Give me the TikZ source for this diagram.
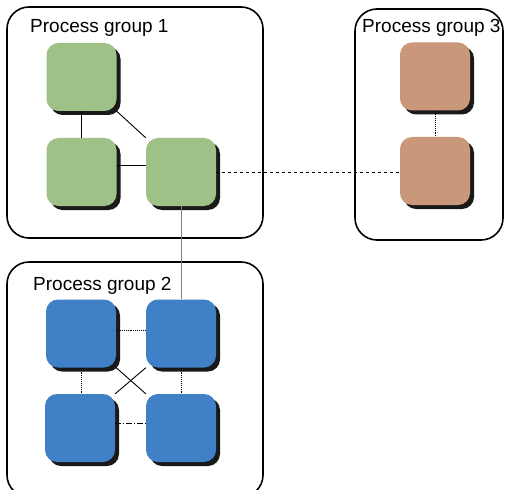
\documentclass[tikz,border=0pt]{standalone}
\usepackage{fontspec}
\setmainfont{Liberation Sans}
\usetikzlibrary{shadows,calc}
\definecolor{pgreen}{HTML}{9EC187}
\definecolor{pblue}{HTML}{4080C6}
\definecolor{pbrown}{HTML}{C9977A}
\begin{document}
\begin{tikzpicture}[x=1pt,y=-1pt,
  group/.style={draw=black,line width=1.6pt,rounded corners=22pt,inner sep=0pt},
  glabel/.style={anchor=base west,inner sep=0pt,font=\fontsize{19}{21}\selectfont},
  proc/.style={draw=none,rounded corners=12pt,minimum width=70pt,minimum height=68pt,inner sep=0pt,
    drop shadow={shadow xshift=4pt,shadow yshift=-4pt,fill=black,opacity=0.9}},
  link/.style={draw=black,line width=0.9pt},
  dlink/.style={link,densely dotted},
]
\useasboundingbox (0,0) rectangle (505,489);
\clip (0,0) rectangle (505,489);
\fill[white] (0,0) rectangle (505,489);

% group boxes
\node[group,minimum width=256pt,minimum height=231pt] (g1) at (135,122.5) {};
\node[group,minimum width=256pt,minimum height=235pt] (g2) at (135,379.5) {};
\node[group,minimum width=148pt,minimum height=231pt] (g3) at (429,124.5) {};
\node[glabel] (l1) at (30,33) {Process group 1};
\node[glabel] (l2) at (33,290) {Process group 2};
\node[glabel] (l3) at (362,33) {Process group 3};

% process nodes
\node[proc,fill=pgreen] (gTL) at (81.5,77) {};
\node[proc,fill=pgreen] (gBL) at (81.5,172) {};
\node[proc,fill=pgreen] (gR) at (181,172) {};
\node[proc,fill=pblue] (bTL) at (81,333.5) {};
\node[proc,fill=pblue] (bTR) at (181,333.5) {};
\node[proc,fill=pblue] (bBL) at (80,428) {};
\node[proc,fill=pblue] (bBR) at (181,428) {};
\node[proc,fill=pbrown] (rT) at (435,76.5) {};
\node[proc,fill=pbrown] (rB) at (435,171) {};

% connectors group 1
\draw[link] (gTL.south) -- (gBL.north);
\draw[link] (gTL.south east) -- (gR.north west);
\draw[link] ($(gBL.east)+(0,-7)$) -- ($(gR.west)+(0,-7)$);
% inter-group
\draw[link,dashed] (gR.east) -- (gR.east -| rB.west);
\draw[draw=gray,line width=1pt] (gR.south) -- (bTR.north);
% group 2
\draw[dlink] ($(bTL.east)+(0,-3)$) -- ($(bTR.west)+(0,-3)$);
\draw[dlink] (bTL.south) -- (bTL.south |- bBL.north);
\draw[dlink] (bTR.south) -- (bBR.north);
\draw[link,dash pattern=on 6pt off 2pt on 1pt off 2pt] ($(bBL.east)+(0,-5)$) -- ($(bBR.west)+(0,-5)$);
\draw[link] (bTL.south east) -- (bBR.north west);
\draw[link] (bTR.south west) -- (bBL.north east);
% group 3
\draw[dlink] (rT.south) -- (rB.north);
\end{tikzpicture}
\end{document}
